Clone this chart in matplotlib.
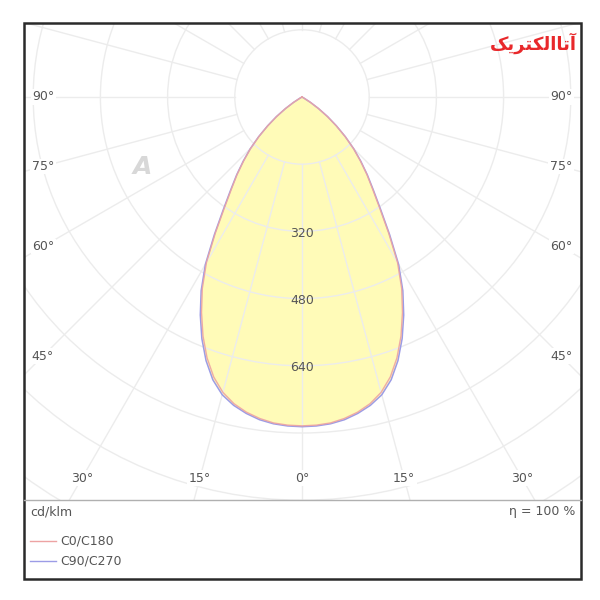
import numpy as np
import matplotlib.pyplot as plt
from matplotlib.patches import Rectangle, Circle

# -------------------------
# Data (cd/klm), gamma measured from nadir
# -------------------------
gamma_deg = [0, 2.5, 5, 7.5, 10, 12.5, 15, 17.5, 20, 22.5, 25, 27.5, 30, 32.5,
             35, 37.5, 40, 42.5, 45, 47.5, 50, 52.5, 55, 57.5, 60, 62.5, 90]
c0_c180 = [783, 782, 779, 772, 762, 748, 728, 699, 661, 616, 566, 514, 455, 384,
           322, 276, 240, 205, 173, 139, 106, 76, 48, 24, 6, 0, 0]
c90_c270 = [785, 784, 781, 775, 765, 752, 734, 706, 668, 623, 573, 520, 460, 388,
            326, 279, 242, 207, 174, 140, 107, 77, 48, 24, 6, 0, 0]

ring_values = [320, 480, 640]
angle_labels = [90, 75, 60, 45, 30, 15, 0]
eta_text = "η = 100 %"
unit_text = "cd/klm"
legend_names = ["C0/C180", "C90/C270"]

FILL = "#FFFBB8"
RED = "#EDA3A3"
BLUE = "#9C9CE6"
GRID = "#ECECEC"
TXT = "#555555"
FS = 9


def curve_xy(values):
    g = np.radians(np.array(gamma_deg, dtype=float))
    v = np.array(values, dtype=float)
    # right half (C0 / C90) and mirrored left half (C180 / C270)
    x = np.concatenate([-(v * np.sin(g))[::-1], v * np.sin(g)])
    y = np.concatenate([-(v * np.cos(g))[::-1], -v * np.cos(g)])
    return x, y


fig = plt.figure(figsize=(6, 6), dpi=100)
fig.patch.set_facecolor("white")

# plot area: px 24..581 x 23..500, centre at (302, 97), 0.42 px per cd/klm
scale = 0.42
x0, x1, ytop, ybot, cx, cy = 24, 581, 23, 500, 302, 97
ax = fig.add_axes([x0 / 600, 1 - ybot / 600, (x1 - x0) / 600, (ybot - ytop) / 600])
ax.set_xlim((x0 - cx) / scale, (x1 - cx) / scale)
ax.set_ylim(-(ybot - cy) / scale, (cy - ytop) / scale)
ax.set_aspect("equal")
ax.axis("off")

# curves
xb, yb = curve_xy(c90_c270)
xr, yr = curve_xy(c0_c180)
ax.fill(xb, yb, color=FILL, zorder=1, lw=0)

# grid
for r in np.arange(160, 2000, 160):
    ax.add_patch(Circle((0, 0), r, fill=False, ec=GRID, lw=1, zorder=2))
for a in range(0, 360, 15):
    t = np.radians(a)
    ax.plot([160 * np.sin(t), 2200 * np.sin(t)], [-160 * np.cos(t), -2200 * np.cos(t)],
            color=GRID, lw=1, zorder=2)

ax.plot(xb, yb, color=BLUE, lw=1.1, zorder=3)
ax.plot(xr, yr, color=RED, lw=1.0, zorder=4, alpha=0.9)

# ring labels on the 0° axis
for v in ring_values:
    ax.text(0, -v - 5, str(v), ha="center", va="center", fontsize=FS, color=TXT, zorder=5)

# angle labels where the radial lines meet the label band
side_x = (cx - 43) / scale
bottom_y = -(478 - cy) / scale
for a in angle_labels:
    t = np.radians(a)
    if a >= 45:
        pts = [(-side_x, -side_x * np.cos(t) / np.sin(t)),
               (side_x, -side_x * np.cos(t) / np.sin(t))]
    else:
        x = -bottom_y * np.tan(t)
        pts = [(0, bottom_y)] if a == 0 else [(-x, bottom_y), (x, bottom_y)]
    for px, py in pts:
        ax.text(px, py, f"{a}°", ha="center", va="center", fontsize=FS, color=TXT,
                zorder=5, bbox=dict(fc="white", ec="none", pad=1))

# watermarks
ax.text((142 - cx) / scale, -(167 - cy) / scale, "A", ha="center", va="center",
        fontsize=18, style="italic", fontweight="bold", color="#D8D8D8", zorder=5)
logo = "\uFB8F\uFBFE\uFEAE\uFE98\uFB91\uFEDF\uFE8D\uFE8E\uFE97\uFE81"
fig.text(533 / 600, 1 - 43 / 600, logo, ha="center", va="center", fontsize=13,
         fontweight="bold", color="#E8282B", family=["DejaVu Sans"])

# frame and separator
fig.add_artist(Rectangle((x0 / 600, 1 - 579 / 600), (x1 - x0) / 600, (579 - ytop) / 600,
                         transform=fig.transFigure, fill=False, ec="#2A2A2A", lw=1.8))
fig.add_artist(plt.Line2D([x0 / 600, x1 / 600], [1 - ybot / 600] * 2,
                          transform=fig.transFigure, color="#B0B0B0", lw=1))

# legend area
fig.text(30 / 600, 1 - 512 / 600, unit_text, ha="left", va="center", fontsize=FS, color=TXT)
fig.text(575 / 600, 1 - 512 / 600, eta_text, ha="right", va="center", fontsize=FS, color=TXT)
for i, (name, col) in enumerate(zip(legend_names, [RED, BLUE])):
    yy = 1 - (541 + 20 * i) / 600
    fig.add_artist(plt.Line2D([30 / 600, 56 / 600], [yy, yy], transform=fig.transFigure,
                              color=col, lw=1))
    fig.text(60 / 600, yy, name, ha="left", va="center", fontsize=FS, color=TXT)

fig.savefig("out.png", dpi=100, facecolor="white")
